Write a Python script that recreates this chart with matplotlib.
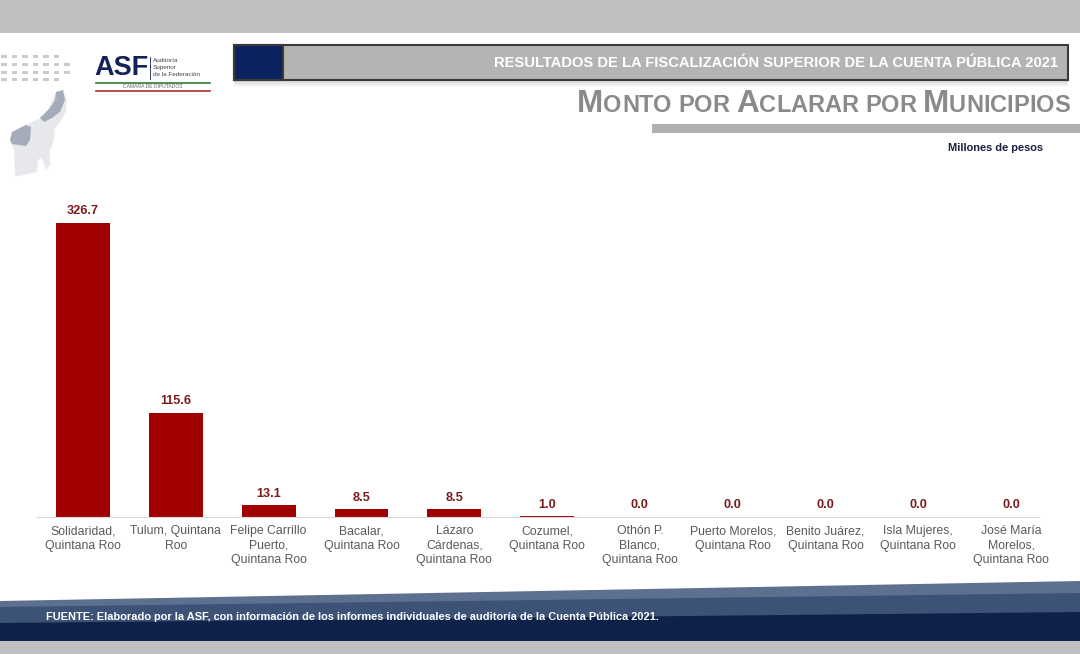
import matplotlib
matplotlib.use('Agg')
import matplotlib.pyplot as plt
from matplotlib.patches import Rectangle, Polygon
import numpy as np

# data
municipios = ['Solidaridad,\nQuintana Roo', 'Tulum, Quintana\nRoo',
              'Felipe Carrillo\nPuerto,\nQuintana Roo', 'Bacalar,\nQuintana Roo',
              'Lázaro\nCárdenas,\nQuintana Roo', 'Cozumel,\nQuintana Roo',
              'Othón P.\nBlanco,\nQuintana Roo', 'Puerto Morelos,\nQuintana Roo',
              'Benito Juárez,\nQuintana Roo', 'Isla Mujeres,\nQuintana Roo',
              'José María\nMorelos,\nQuintana Roo']
monto = [326.7, 115.6, 13.1, 8.5, 8.5, 1.0, 0.0, 0.0, 0.0, 0.0, 0.0]

header = 'RESULTADOS DE LA FISCALIZACIÓN SUPERIOR DE LA CUENTA PÚBLICA 2021'
title = 'Monto por Aclarar por Municipios'
unidad = 'Millones de pesos'
fuente = ('FUENTE: Elaborado por la ASF, con información de los informes '
          'individuales de auditoría de la Cuenta Pública 2021.')

plt.rcParams['font.family'] = ['Liberation Sans', 'DejaVu Sans']

W, H = 1080, 654
fig = plt.figure(figsize=(W / 100, H / 100), dpi=100)
fig.patch.set_facecolor('white')

# overlay in pixel coords for the slide decoration
bg = fig.add_axes([0, 0, 1, 1], zorder=0)
bg.set_xlim(0, W)
bg.set_ylim(H, 0)
bg.axis('off')


def fit_text(ax, x, y, s, width, ha='left', **kw):
    t = ax.text(x, y, s, ha=ha, va='center', **kw)
    r = fig.canvas.get_renderer()
    w = t.get_window_extent(r).width
    t.set_fontsize(t.get_fontsize() * width / w)
    return t


# top and bottom gray bands
bg.add_patch(Rectangle((0, 0), W, 33, color='#c0c0c0', lw=0))
bg.add_patch(Rectangle((0, 641), W, 13, color='#bdbfc3', lw=0))

# footer slanted bands
bg.add_patch(Polygon([(0, 601), (W, 581), (W, 641), (0, 641)], color='#5d7090', lw=0))
bg.add_patch(Polygon([(0, 607), (W, 593), (W, 641), (0, 641)], color='#3c5276', lw=0))
bg.add_patch(Polygon([(0, 623), (W, 612), (W, 641), (0, 641)], color='#0e2249', lw=0))
fit_text(bg, 46, 617, fuente, 615, color='white', fontweight='bold', fontsize=8)

# header box
for i, a in enumerate(np.linspace(0.35, 0.0, 8)):
    bg.add_patch(Rectangle((234, 80 + i), 834, 1, color='#888888', alpha=a, lw=0))
bg.add_patch(Rectangle((234, 45), 834, 35, facecolor='#b4b4b4', edgecolor='#3a3a3a', lw=1.5))
bg.add_patch(Rectangle((234, 45), 49, 35, facecolor='#0b2160', edgecolor='#3a3a3a', lw=1.5))
fit_text(bg, 1058, 63, header, 562, ha='right', color='white', fontweight='bold',
         fontsize=11)

# small caps title, right aligned at x=1070, fitted to 490 px
r = fig.canvas.get_renderer()
pieces = []
for k, wd in enumerate(title.split(' ')):
    word = (' ' if k else '') + wd
    for ch in word:
        big = ch.isupper()
        t = bg.text(0, 112, ch.upper(), fontsize=22 if big else 16.5, color='#8a8a8a',
                    fontweight='bold', ha='left', va='baseline')
        pieces.append(t)
widths = [p.get_window_extent(r).width for p in pieces]
scale = 490 / sum(widths)
for p in pieces:
    p.set_fontsize(p.get_fontsize() * scale)
widths = [p.get_window_extent(r).width for p in pieces]
x = 1070 - sum(widths)
for p, w in zip(pieces, widths):
    p.set_x(x)
    x += w
bg.add_patch(Rectangle((652, 124), 428, 9, color='#b0b0b0', lw=0))
bg.text(1043, 148, unidad, ha='right', va='center', fontsize=7.9,
        fontweight='bold', color='#1b1f3b')

# logo
bg.text(94, 68, 'ASF', fontsize=19.5, fontweight='bold', color='#13205a',
        ha='left', va='center')
bg.plot([150, 150], [57, 79], color='#13205a', lw=0.6)
for k, s in enumerate(['Auditoría', 'Superior', 'de la Federación']):
    bg.text(153, 60 + k * 7, s, fontsize=4.6, color='#444444', va='center')
bg.plot([96, 210], [83, 83], color='#2e7d3a', lw=1.2)
bg.text(153, 86.5, 'CÁMARA DE DIPUTADOS', fontsize=3.6, color='#666666',
        ha='center', va='center')
bg.plot([96, 210], [91, 91], color='#b03030', lw=1.2)

# dotted grid top-left
for row, n in zip([55, 63, 71, 78], [6, 7, 7, 6]):
    for c in range(n):
        bg.add_patch(Rectangle((1 + c * 10.5, row), 5.5, 3, color='#cbcbcb', lw=0))

# rough state outline
state = [(56, 92), (63, 90), (67, 100), (66, 112), (60, 122), (55, 128), (54, 140),
         (50, 150), (50, 165), (46, 170), (42, 158), (38, 160), (37, 172), (15, 177),
         (14, 150), (10, 140), (12, 132), (26, 125), (40, 118), (48, 110), (52, 100)]
bg.add_patch(Polygon(state, facecolor='#e6e8ec', edgecolor='#f7f7f7', lw=0.5))
bg.add_patch(Polygon([(10, 140), (12, 132), (26, 125), (31, 127), (30, 140),
                      (26, 146), (12, 144)], facecolor='#a4abba', lw=0))
bg.add_patch(Polygon([(56, 92), (63, 90), (65, 100), (60, 112), (52, 118),
                      (44, 122), (40, 118), (50, 108), (55, 100)],
                     facecolor='#a4abba', lw=0))

# bar chart
ax = fig.add_axes([36.6 / W, (H - 517) / H, 1021 / W, 315 / H], zorder=1)
ax.patch.set_alpha(0)
xs = np.arange(len(monto))
bars = ax.bar(xs, monto, width=0.58, color='#a00000', lw=0)
ax.set_xlim(-0.5, len(monto) - 0.5)
ax.set_ylim(0, 350)
for b, v in zip(bars, monto):
    ax.annotate(f'{v:.1f}', (b.get_x() + b.get_width() / 2, v),
                xytext=(0, 4), textcoords='offset points', ha='center',
                va='bottom', fontsize=9.2, fontweight='bold', color='#7a1c1c')
ax.set_xticks(xs)
ax.set_xticklabels(municipios, fontsize=8.8, color='#595959', linespacing=1.25)
ax.tick_params(axis='x', length=0, pad=6)
ax.set_yticks([])
for s in ['left', 'right', 'top']:
    ax.spines[s].set_visible(False)
ax.spines['bottom'].set_color('#d9d9d9')
ax.spines['bottom'].set_bounds(-0.5, 10.3)

fig.savefig('out.png', dpi=100)
